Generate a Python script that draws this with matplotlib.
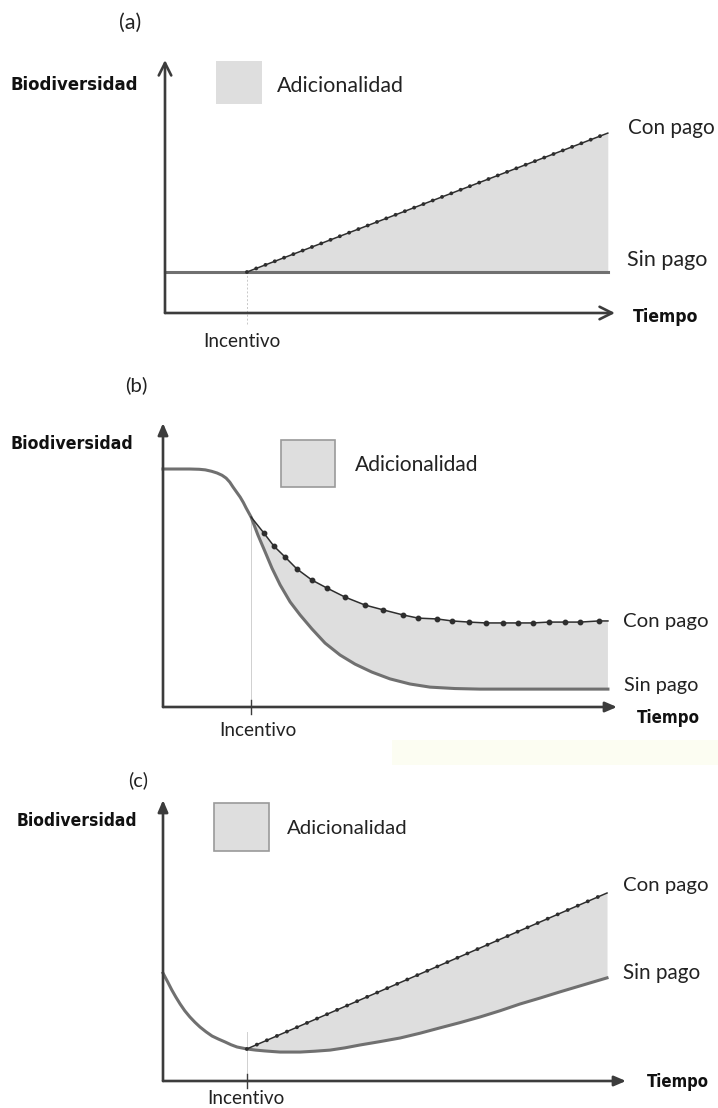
import numpy as np
import matplotlib
matplotlib.use("Agg")
import matplotlib.pyplot as plt
from matplotlib.patches import Rectangle
from matplotlib import font_manager as fm

# ---- datos (unidades arbitrarias: tiempo 0-10, biodiversidad 0-10) ----
# (a)
inc_a = 1.82
sin_a_t = [0.0, 9.84]
sin_a_b = [1.62, 1.62]
con_a_t = [1.82, 9.84]
con_a_b = [1.62, 7.11]

# (b)
inc_b = 1.94
sin_b_t = [0.0, 0.59, 0.80, 0.93, 1.07, 1.19, 1.30, 1.39, 1.47, 1.54, 1.62, 1.70,
           1.77, 1.83, 1.94, 2.09, 2.25, 2.40, 2.58, 2.80, 3.02, 3.28, 3.57, 3.90,
           4.23, 4.60, 5.00, 5.44, 5.88, 6.43, 6.98, 9.80]
sin_b_b = [8.38, 8.38, 8.37, 8.35, 8.30, 8.24, 8.16, 8.06, 7.92, 7.75, 7.57, 7.39,
           7.20, 7.01, 6.69, 6.06, 5.46, 4.89, 4.30, 3.70, 3.24, 2.75, 2.25, 1.83,
           1.51, 1.23, 0.99, 0.81, 0.70, 0.65, 0.63, 0.63]
con_b_t = [1.94, 2.22, 2.44, 2.69, 2.95, 3.28, 3.61, 4.01, 4.45, 4.85, 5.29, 5.62,
           6.04, 6.37, 6.74, 7.11, 7.49, 7.82, 8.15, 8.50, 8.85, 9.19, 9.60, 9.80]
con_b_b = [6.69, 6.13, 5.67, 5.28, 4.86, 4.47, 4.19, 3.87, 3.59, 3.42, 3.24, 3.13,
           3.10, 3.03, 2.99, 2.96, 2.96, 2.96, 2.96, 2.99, 2.99, 2.99, 3.03, 3.03]

# (c)
inc_c = 1.81
sin_c_t = [0.0, 0.10, 0.19, 0.28, 0.37, 0.47, 0.58, 0.69, 0.80, 0.93, 1.06, 1.20,
           1.34, 1.47, 1.60, 1.81, 2.00, 2.20, 2.36, 2.53, 2.75, 2.96, 3.28, 3.61,
           3.93, 4.25, 4.68, 5.12, 5.55, 5.98, 6.42, 6.85, 7.28, 7.71, 8.14, 8.57,
           9.08, 9.59]
sin_c_b = [3.84, 3.53, 3.24, 2.98, 2.74, 2.50, 2.28, 2.09, 1.92, 1.75, 1.60, 1.49,
           1.39, 1.29, 1.21, 1.14, 1.10, 1.07, 1.05, 1.03, 1.03, 1.03, 1.06, 1.10,
           1.18, 1.28, 1.40, 1.53, 1.70, 1.89, 2.08, 2.28, 2.50, 2.74, 2.95, 3.17,
           3.42, 3.67]
con_c_t = [1.81, 9.59]
con_c_b = [1.14, 6.69]

W, H = 718, 1108
fig = plt.figure(figsize=(W / 100, H / 100), dpi=100)
fig.patch.set_facecolor('white')


def has_font(name):
    try:
        fm.findfont(fm.FontProperties(family=name), fallback_to_default=False)
        return True
    except Exception:
        return False


def find_narrow_bold():
    for f in fm.fontManager.ttflist:
        n = (f.fname + ' ' + f.name).lower()
        if ('narrow' in n or 'condensed' in n) and f.weight in ('bold', 700, 'heavy'):
            if 'oblique' in n or 'italic' in n:
                continue
            return fm.FontProperties(fname=f.fname)
    for f in fm.fontManager.ttflist:
        n = f.fname.lower()
        if ('narrow-bold' in n or 'condensed-bold' in n or 'narrowbold' in n
                or 'condensedbold' in n) and 'italic' not in n and 'oblique' not in n:
            return fm.FontProperties(fname=f.fname)
    return fm.FontProperties(family='Liberation Sans', weight='bold')


BOLD_FP = find_narrow_bold()
REG = 'Lato' if has_font('Lato') else 'DejaVu Sans'

AXC = '#3c3c3c'
SINC = '#707070'
CONC = '#2e2e2e'
FILLC = '#dedede'

renderer = fig.canvas.get_renderer()


def fx(x):
    return x / W


def fy(y):
    return 1 - y / H


def put(x, y, s, width, ha='left', bold=False, color='#222222'):
    if bold:
        fp = BOLD_FP.copy()
        fp.set_size(12)
        t = fig.text(fx(x), fy(y), s, ha=ha, va='center', fontproperties=fp,
                     color='#111111')
    else:
        t = fig.text(fx(x), fy(y), s, ha=ha, va='center', fontsize=12,
                     family=REG, color=color)
    bb = t.get_window_extent(renderer)
    t.set_fontsize(12 * width / bb.width)
    return t


def panel(left, top, right, bottom):
    ax = fig.add_axes([fx(left), fy(bottom), (right - left) / W, (bottom - top) / H])
    ax.set_xlim(0, 10)
    ax.set_ylim(0, 10)
    ax.axis('off')
    return ax


def axis_arrows(ax, open_head):
    if open_head:
        st = '->,head_length=0.9,head_width=0.45'
    else:
        st = '-|>,head_length=0.7,head_width=0.3'
    for end in [(1, 0), (0, 1)]:
        ax.annotate('', xy=end, xytext=(0, 0), xycoords='axes fraction',
                    arrowprops=dict(arrowstyle=st, lw=1.9, color=AXC,
                                    shrinkA=0, shrinkB=0, fc=AXC))


def legend_box(x0, y0, x1, y1, edge):
    r = Rectangle((fx(x0), fy(y1)), (x1 - x0) / W, (y1 - y0) / H,
                  transform=fig.transFigure, facecolor=FILLC,
                  edgecolor='#9a9a9a' if edge else 'none', lw=1.2)
    fig.add_artist(r)


# faint background strip seen in the original
fig.add_artist(Rectangle((fx(392), fy(765)), (W - 392) / W, 25 / H,
                         transform=fig.transFigure, facecolor='#fcfdf2',
                         edgecolor='none'))

# ---------------- (a) ----------------
ax = panel(165, 60, 615, 313)
ax.fill_between(con_a_t, [sin_a_b[0]] * len(con_a_t), con_a_b, color=FILLC, lw=0)
ax.plot([inc_a, inc_a], [-0.45, sin_a_b[0]], color='#c8c8c8', lw=0.7,
        ls=(0, (2, 2)), clip_on=False)
ax.plot(sin_a_t, sin_a_b, color=SINC, lw=2.2, clip_on=False)
ax.plot(con_a_t, con_a_b, color=CONC, lw=1.1, clip_on=False)
ax.plot(con_a_t, con_a_b, color=CONC, lw=2.8, ls=(0, (0.01, 2.55)),
        dash_capstyle='round', clip_on=False)
axis_arrows(ax, True)

put(119, 23, '(a)', 22)
put(10, 85, 'Biodiversidad', 127, bold=True)
legend_box(216, 61, 262, 104, False)
put(277, 86, 'Adicionalidad', 126)
put(628, 128, 'Con pago', 86)
put(627, 260, 'Sin pago', 80)
put(633, 317, 'Tiempo', 65, bold=True)
put(242, 342, 'Incentivo', 77, ha='center')

# ---------------- (b) ----------------
ax = panel(163, 423, 617, 707)
poly_t = list(con_b_t) + [t for t in sin_b_t[::-1] if t >= inc_b]
poly_b = list(con_b_b) + [b for t, b in zip(sin_b_t[::-1], sin_b_b[::-1]) if t >= inc_b]
ax.fill(poly_t, poly_b, color=FILLC, lw=0)
ax.plot([inc_b, inc_b], [0, con_b_b[0]], color='#d0d0d0', lw=0.7, clip_on=False)
ax.plot([inc_b, inc_b], [-0.25, 0.25], color=AXC, lw=1.0, clip_on=False)
ax.plot(sin_b_t, sin_b_b, color=SINC, lw=2.2, clip_on=False, solid_joinstyle='round')
ax.plot(con_b_t, con_b_b, color=CONC, lw=1.1, marker='o', ms=3.2,
        markevery=slice(1, -1), clip_on=False)
axis_arrows(ax, False)

put(125, 385, '(b)', 22)
put(11, 444, 'Biodiversidad', 122, bold=True)
legend_box(281, 440, 335, 487, True)
put(355, 465, 'Adicionalidad', 124)
put(623, 621, 'Con pago', 85)
put(624, 686, 'Sin pago', 74)
put(637, 718, 'Tiempo', 63, bold=True)
put(258, 730, 'Incentivo', 77, ha='center')

# ---------------- (c) ----------------
ax = panel(163, 800, 626, 1081)
line_c = np.interp(sin_c_t, con_c_t, con_c_b)
mask = np.array(sin_c_t) >= inc_c
ax.fill_between(np.array(sin_c_t)[mask], np.array(sin_c_b)[mask], line_c[mask],
                color=FILLC, lw=0)
ax.plot([inc_c, inc_c], [0, con_c_b[0] + 0.6], color='#d0d0d0', lw=0.7, clip_on=False)
ax.plot([inc_c, inc_c], [-0.25, 0.25], color=AXC, lw=1.0, clip_on=False)
ax.plot(sin_c_t, sin_c_b, color=SINC, lw=2.2, clip_on=False, solid_joinstyle='round')
ax.plot(con_c_t, con_c_b, color=CONC, lw=1.1, clip_on=False)
ax.plot(con_c_t, con_c_b, color=CONC, lw=2.8, ls=(0, (0.01, 2.8)),
        dash_capstyle='round', clip_on=False)
axis_arrows(ax, False)

put(128, 780, '(c)', 20)
put(17, 821, 'Biodiversidad', 120, bold=True)
legend_box(214, 803, 269, 851, True)
put(287, 828, 'Adicionalidad', 120)
put(623, 885, 'Con pago', 85)
put(623, 973, 'Sin pago', 77)
put(647, 1082, 'Tiempo', 62, bold=True)
put(246, 1098, 'Incentivo', 77, ha='center')

fig.savefig('out.png', dpi=100)
